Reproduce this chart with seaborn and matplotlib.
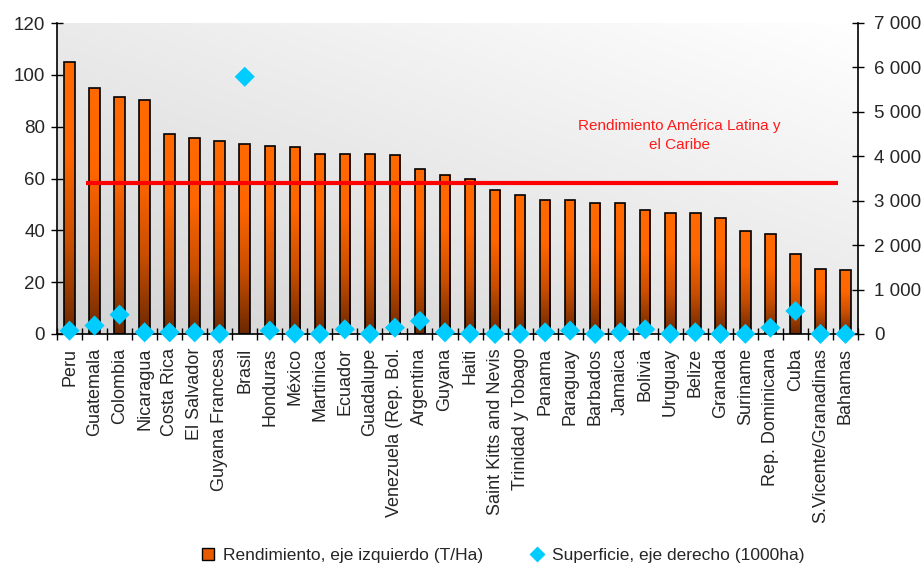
import numpy as np
import pandas as pd
import matplotlib
matplotlib.use('Agg')
import matplotlib.pyplot as plt
from matplotlib.lines import Line2D
from matplotlib.ticker import FixedLocator, FuncFormatter
import seaborn as sns

# Data
paises = ['Peru', 'Guatemala', 'Colombia', 'Nicaragua', 'Costa Rica', 'El Salvador',
          'Guyana Francesa', 'Brasil', 'Honduras', 'México', 'Martinica', 'Ecuador',
          'Guadalupe', 'Venezuela (Rep. Bol.', 'Argentina', 'Guyana', 'Haiti',
          'Saint Kitts and Nevis', 'Trinidad y Tobago', 'Panama', 'Paraguay', 'Barbados',
          'Jamaica', 'Bolivia', 'Uruguay', 'Belize', 'Granada', 'Suriname',
          'Rep. Dominicana', 'Cuba', 'S.Vicente/Granadinas', 'Bahamas']
rendimiento = [105.0, 94.8, 91.6, 90.3, 77.0, 75.8, 74.5, 73.3, 72.6, 72.0, 69.5, 69.5,
               69.5, 68.9, 63.8, 61.3, 59.9, 55.5, 53.7, 51.8, 51.8, 50.4, 50.4, 47.9,
               46.7, 46.7, 44.8, 39.8, 38.6, 30.9, 25.2, 24.6]
superficie = [75, 190, 435, 38, 38, 38, 5, 5790, 75, 10, 2, 105, 3, 142, 293, 38, 8,
              1, 3, 38, 75, 2, 38, 105, 5, 38, 2, 5, 142, 518, 2, 2]
promedio_alc = 58.3

df = pd.DataFrame({'pais': paises, 'rendimiento': rendimiento, 'superficie': superficie})
n = len(paises)

sns.set_theme(style='white')
plt.rcParams['font.family'] = ['Liberation Sans', 'DejaVu Sans']

fig = plt.figure(figsize=(9.21, 5.67), dpi=100)
ax = fig.add_axes([57 / 921, 1 - 334 / 567, (858 - 57) / 921, (334 - 23) / 567])

# plot-area gradient background
xs = np.linspace(0, 1, 200)
ys = np.linspace(0, 1, 200)
X, Y = np.meshgrid(xs, ys)
G = 0.83 + 0.09 * Y + 0.08 * X
ax.imshow(np.dstack([G, G, G]), extent=[0, 1, 0, 1], transform=ax.transAxes,
          origin='lower', aspect='auto', zorder=0, interpolation='bilinear')

sns.barplot(data=df, x='pais', y='rendimiento', ax=ax, width=0.42,
            color='#FF6600', edgecolor='black', linewidth=1.2, zorder=2)

# vertical orange-to-brown gradient inside each bar
cmap = matplotlib.colors.LinearSegmentedColormap.from_list('bar', ['#6B2800', '#C84E00', '#FF6600', '#FF6A00'])
grad = np.linspace(0, 1, 256).reshape(-1, 1)
for p in ax.patches:
    x0, y0 = p.get_x(), p.get_y()
    w, h = p.get_width(), p.get_height()
    im = ax.imshow(grad, cmap=cmap, extent=[x0, x0 + w, y0, y0 + h], origin='lower',
                   aspect='auto', zorder=2.1)
    im.set_clip_path(p)
    p.set_facecolor('none')
    p.set_zorder(2.2)

ax.hlines(promedio_alc, 0.65, 30.7, color='#FF0000', linewidth=3, zorder=3)
ax.text(24.35, 76.5, 'Rendimiento América Latina y\nel Caribe', color='#FF1A1A',
        ha='center', va='center', fontsize=11, linespacing=1.45, zorder=4)

ax.set_xlim(-0.5, n - 0.5)
ax.set_ylim(0, 120)
ax.set_yticks(np.arange(0, 121, 20))
ax.set_xlabel('')
ax.set_ylabel('')
ax.xaxis.set_minor_locator(FixedLocator(np.arange(-0.5, n, 1.0)))
ax.tick_params(axis='x', which='major', length=0, labelrotation=90, labelsize=13, pad=10)
ax.tick_params(axis='x', which='minor', direction='inout', length=9, width=1, color='black', bottom=True)
ax.tick_params(axis='y', direction='inout', length=9, width=1, color='black', left=True,
               labelsize=13.5, pad=4)
for s in ['top', 'right']:
    ax.spines[s].set_visible(False)
for s in ['left', 'bottom']:
    ax.spines[s].set_color('black')
    ax.spines[s].set_linewidth(1.2)

ax2 = ax.twinx()
sns.scatterplot(x=np.arange(n), y=df['superficie'], ax=ax2, marker='D', s=105,
                color='#00CCFF', edgecolor='none', zorder=5, legend=False, clip_on=False)
ax2.set_ylim(0, 7000)
ax2.set_yticks(np.arange(0, 7001, 1000))
ax2.yaxis.set_major_formatter(FuncFormatter(lambda v, _: f'{int(v):,}'.replace(',', ' ')))
ax2.set_ylabel('')
ax2.tick_params(axis='y', direction='inout', length=9, width=1, color='black', right=True,
                labelsize=13.5, pad=7)
ax2.grid(False)
ax.grid(False)
for s in ['top', 'left', 'bottom']:
    ax2.spines[s].set_visible(False)
ax2.spines['right'].set_color('black')
ax2.spines['right'].set_linewidth(1.2)

handles = [
    Line2D([], [], marker='s', linestyle='none', markersize=9, markerfacecolor='#E85A00',
           markeredgecolor='black', markeredgewidth=1),
    Line2D([], [], marker='D', linestyle='none', markersize=8, markerfacecolor='#00CCFF',
           markeredgecolor='none'),
]
fig.legend(handles, ['Rendimiento, eje izquierdo (T/Ha)', 'Superficie, eje derecho (1000ha)'],
           loc='center', bbox_to_anchor=(501 / 921, 1 - 555 / 567), ncol=2, frameon=False,
           fontsize=12.5, handletextpad=0.25, columnspacing=2.5, handlelength=1.2,
           borderpad=0, borderaxespad=0)

fig.savefig('out.png', dpi=100)
